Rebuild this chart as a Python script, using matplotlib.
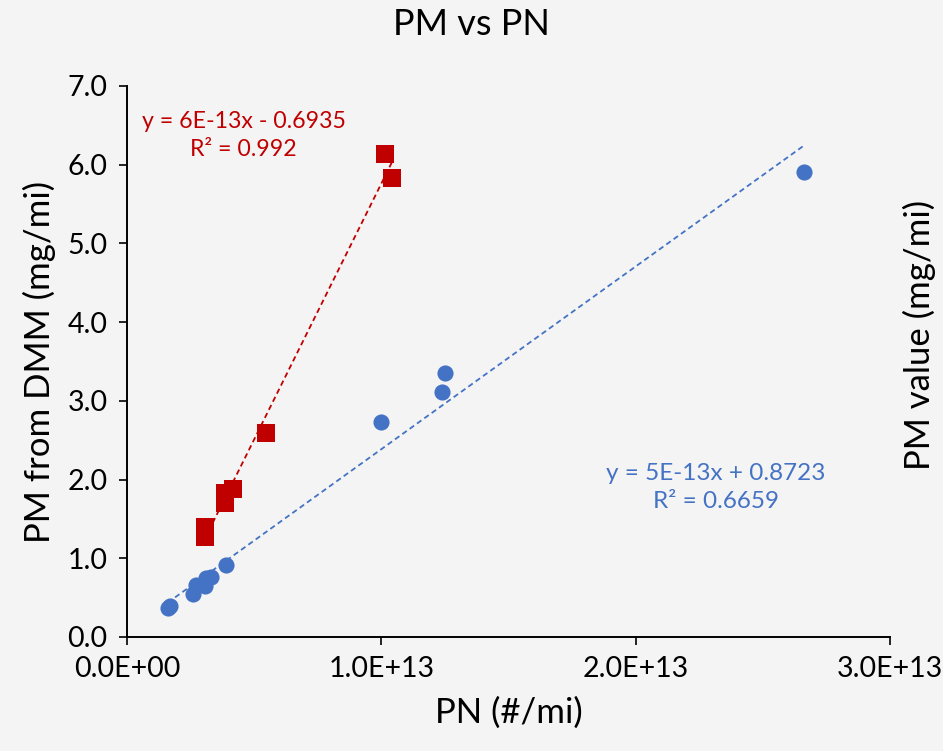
import numpy as np
import matplotlib
matplotlib.use("Agg")
import matplotlib.pyplot as plt
from matplotlib.ticker import FuncFormatter, MultipleLocator

# data (PN in #/mi, PM in mg/mi)
pn_blue = [0.16e13, 0.17e13, 0.26e13, 0.27e13, 0.305e13, 0.31e13, 0.33e13, 0.39e13,
           1.0e13, 1.24e13, 1.25e13, 2.66e13]
pm_blue = [0.37, 0.40, 0.54, 0.66, 0.65, 0.75, 0.76, 0.92,
           2.73, 3.11, 3.35, 5.91]

pn_red = [0.305e13, 0.305e13, 0.384e13, 0.384e13, 0.415e13, 0.545e13, 1.014e13, 1.041e13]
pm_red = [1.40, 1.27, 1.83, 1.70, 1.88, 2.59, 6.14, 5.83]

eq_red = "y = 6E-13x - 0.6935\nR² = 0.992"
eq_blue = "y = 5E-13x + 0.8723\nR² = 0.6659"

blue = "#4472C4"
red = "#C00000"
bg = "#f4f4f4"

plt.rcParams['font.family'] = ['Lato', 'DejaVu Sans']

fig = plt.figure(figsize=(9.43, 7.51), dpi=100, facecolor=bg)
ax = fig.add_axes([0.1347, 0.1518, 0.8091, 0.7337])
ax.set_facecolor(bg)

# trendlines (linear fits over each series' range)
for xs, ys, c in [(pn_blue, pm_blue, blue), (pn_red, pm_red, red)]:
    k, b = np.polyfit(xs, ys, 1)
    xx = np.array([min(xs), max(xs)])
    ax.plot(xx, k * xx + b, color=c, lw=1.3, ls=(0, (3, 2)), zorder=2)

ax.scatter(pn_blue, pm_blue, s=135, marker='o', color=blue, zorder=3, linewidths=0)
ax.scatter(pn_red, pm_red, s=150, marker='s', color=red, zorder=3, linewidths=0)

ax.set_xlim(0, 3e13)
ax.set_ylim(0, 7)
ax.xaxis.set_major_locator(MultipleLocator(1e13))
ax.yaxis.set_major_locator(MultipleLocator(1.0))
ax.xaxis.set_major_formatter(FuncFormatter(lambda v, p: f"{v:.1E}"))
ax.yaxis.set_major_formatter(FuncFormatter(lambda v, p: f"{v:.1f}"))

for side in ['top', 'right']:
    ax.spines[side].set_visible(False)
for side in ['left', 'bottom']:
    ax.spines[side].set_linewidth(1.4)
    ax.spines[side].set_color('black')
ax.tick_params(direction='out', length=6, width=1.2, labelsize=20.5, pad=8)

ax.set_xlabel("PN (#/mi)", fontsize=25, labelpad=10)
ax.set_ylabel("PM from DMM (mg/mi)", fontsize=25, labelpad=8)
fig.suptitle("PM vs PN", fontsize=26, y=0.99, x=0.5)

# label of the secondary axis, pushed to the right edge as in the original
fig.text(0.975, 0.554, "PM value (mg/mi)", rotation=90, fontsize=25,
         ha='center', va='center')

ax.text(0.153, 0.91, eq_red, color=red, fontsize=16.7, ha='center', va='center',
        multialignment='center', linespacing=1.4, transform=ax.transAxes)
ax.text(0.772, 0.272, eq_blue, color=blue, fontsize=17.5, ha='center', va='center',
        multialignment='center', linespacing=1.4, transform=ax.transAxes)

fig.savefig("out.png", dpi=100, facecolor=bg)
